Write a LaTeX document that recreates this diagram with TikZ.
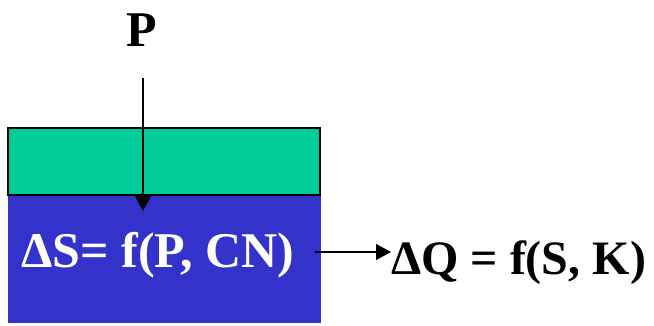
\documentclass[tikz,border=0pt]{standalone}
\usepackage{fontspec}
\setmainfont{Liberation Serif}
\usetikzlibrary{arrows.meta}
\definecolor{topgreen}{HTML}{00CC99}
\definecolor{botblue}{HTML}{3333CC}
\begin{document}
\begin{tikzpicture}[x=1pt,y=1pt,
  lbl/.style={font=\fontsize{50}{54}\selectfont\bfseries, inner sep=0pt, anchor=base},
  conn/.style={line width=1.2pt, -{Triangle[length=15pt,width=16pt]}}]
\useasboundingbox (0,0) rectangle (654,325);
% lower (blue) layer
\fill[botblue] (8,2) rectangle (321,130);
% upper (green) layer
\filldraw[fill=topgreen, draw=black, line width=1.3pt] (8,130) rectangle (320,197);
\node[lbl] (P) at (142,279) {P};
\coordinate (pstart) at (143,247);
\coordinate (pend) at (143,114);
\draw[conn] (pstart) -- (pend);
\node[lbl, text=white] (ds) at (158,58) {ΔS= f(P, CN)};
\node[lbl, anchor=base west, font=\fontsize{48}{52}\selectfont\bfseries] (dq) at (391,51) {ΔQ = f(S, K)};
\coordinate (astart) at (315,73);
\draw[conn] (astart) -- (dq.west |- astart);
\end{tikzpicture}
\end{document}
